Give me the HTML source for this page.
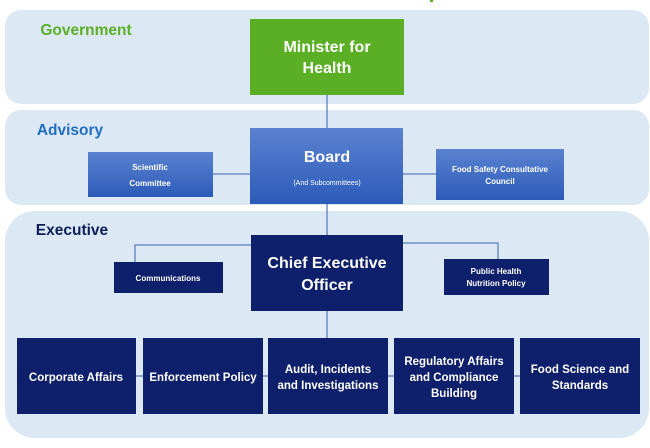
<!DOCTYPE html>
<html><head><meta charset="utf-8"><style>
html,body{margin:0;padding:0;background:#fff}
svg{display:block}
text{font-family:"Liberation Sans",sans-serif;font-weight:bold;text-anchor:middle}
</style></head><body>
<svg width="650" height="448" viewBox="0 0 650 448" xmlns="http://www.w3.org/2000/svg">
<defs>
<linearGradient id="bl" x1="0" y1="0" x2="0" y2="1"><stop offset="0" stop-color="#5a82d0"/><stop offset="1" stop-color="#2c5bb8"/></linearGradient>
</defs>
<rect x="430" y="0" width="3" height="2" fill="#5aaf24"/>
<rect x="5" y="10" width="644" height="94" rx="16" fill="#dde8f5"/>
<rect x="5" y="110" width="644" height="95" rx="16" fill="#dde8f5"/>
<rect x="5" y="211" width="644" height="227" rx="30" fill="#dde8f5"/>
<text x="86" y="35" font-size="15.5" fill="#5aaf24">Government</text>
<text x="70" y="135" font-size="15.5" fill="#1f6ec0">Advisory</text>
<text x="72" y="235" font-size="15.5" fill="#0d1f5a">Executive</text>
<g stroke="#5a7fb8" stroke-width="1.3" fill="none">
<line x1="327" y1="95" x2="327" y2="128"/>
<line x1="327" y1="204" x2="327" y2="235"/>
<line x1="213" y1="174" x2="250" y2="174"/>
<line x1="403" y1="174" x2="436" y2="174"/>
<polyline points="251,245 135,245 135,262"/>
<polyline points="403,243 498,243 498,259"/>
<line x1="327" y1="311" x2="327" y2="338"/>
<line x1="136" y1="376" x2="143" y2="376"/>
<line x1="263" y1="376" x2="268" y2="376"/>
<line x1="388" y1="376" x2="394" y2="376"/>
<line x1="514" y1="376" x2="520" y2="376"/>
</g>
<rect x="250" y="19" width="154" height="76" fill="#5aaf24"/>
<text x="327" y="52" font-size="16" fill="#fff">Minister for</text>
<text x="327" y="73" font-size="16" fill="#fff">Health</text>
<rect x="250" y="128" width="153" height="76" fill="url(#bl)"/>
<text x="327" y="162" font-size="16" fill="#fff">Board</text>
<text x="327" y="185" font-size="7" style="font-weight:normal" fill="#fff">(And Subcommittees)</text>
<rect x="88" y="152" width="125" height="45" fill="url(#bl)"/>
<text x="150" y="170" font-size="8" fill="#fff">Scientific</text>
<text x="150" y="186" font-size="8" fill="#fff">Committee</text>
<rect x="436" y="149" width="128" height="51" fill="url(#bl)"/>
<text x="500" y="172" font-size="8" fill="#fff">Food Safety Consultative</text>
<text x="500" y="184" font-size="8" fill="#fff">Council</text>
<rect x="251" y="235" width="152" height="76" fill="#0e1f6b"/>
<text x="327" y="268" font-size="16" fill="#fff">Chief Executive</text>
<text x="327" y="290" font-size="16" fill="#fff">Officer</text>
<rect x="114" y="262" width="109" height="31" fill="#0e1f6b"/>
<text x="168" y="281" font-size="8" fill="#fff">Communications</text>
<rect x="444" y="259" width="105" height="36" fill="#0e1f6b"/>
<text x="496" y="274" font-size="8" fill="#fff">Public Health</text>
<text x="496" y="286" font-size="8" fill="#fff">Nutrition Policy</text>
<g fill="#0e1f6b">
<rect x="17" y="338" width="119" height="76"/>
<rect x="143" y="338" width="120" height="76"/>
<rect x="268" y="338" width="120" height="76"/>
<rect x="394" y="338" width="120" height="76"/>
<rect x="520" y="338" width="120" height="76"/>
</g>
<g font-size="11.5" fill="#fff">
<text x="76" y="381">Corporate Affairs</text>
<text x="203" y="381">Enforcement Policy</text>
<text x="328" y="373">Audit, Incidents</text>
<text x="328" y="389">and Investigations</text>
<text x="454" y="365">Regulatory Affairs</text>
<text x="454" y="381">and Compliance</text>
<text x="454" y="397">Building</text>
<text x="580" y="373">Food Science and</text>
<text x="580" y="389">Standards</text>
</g>
</svg>
</body></html>
